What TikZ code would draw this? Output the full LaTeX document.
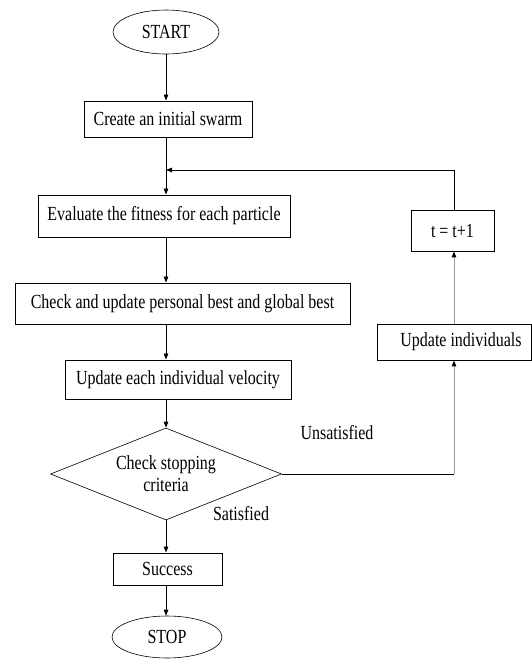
\documentclass[tikz,border=0pt]{standalone}
\usepackage{fontspec}
\setmainfont{Liberation Serif}[FakeStretch=0.8]
\usetikzlibrary{shapes.geometric,arrows.meta}
\begin{document}
\begin{tikzpicture}[x=1pt,y=-1pt,
  every node/.style={font=\fontsize{20}{22}\selectfont, inner sep=0pt},
  box/.style={draw, line width=0.9pt, rectangle},
  oval/.style={draw, line width=0.6pt, ellipse},
  dia/.style={draw, line width=0.6pt, diamond, aspect=2.5, align=center},
  arr/.style={line width=0.8pt, -{Triangle[length=6pt,width=4.5pt]}},
  garr/.style={line width=1pt, draw=black!40, -{Triangle[length=6pt,width=4.5pt,fill=black,color=black]}},
  ln/.style={line width=0.9pt}]
\useasboundingbox (0,0) rectangle (532,659);
\node[oval, minimum width=106pt, minimum height=44pt] (start) at (166,32) {START};
\node[box, minimum width=168pt, minimum height=36pt] (create) at (168,119) {Create an initial swarm};
\node[box, minimum width=252pt, minimum height=42pt] (eval) at (164,216) {Evaluate the fitness for each particle};
\node[box, minimum width=335pt, minimum height=41pt] (check) at (182.5,303.5) {Check and update personal best and global best};
\node[box, minimum width=226pt, minimum height=39pt] (vel) at (178,379.5) {Update each individual velocity};
\node[dia, minimum width=231pt, minimum height=92pt] (stopc) at (166,474) {Check stopping\\criteria};
\node[box, minimum width=109pt, minimum height=32pt] (succ) at (167.5,569) {Success};
\node[oval, minimum width=110pt, minimum height=42pt] (stop) at (167,637) {STOP};
\node[box, minimum width=83pt, minimum height=41pt] (tbox) at (452.5,230.5) {t = t+1};
\node[box, minimum width=154pt, minimum height=36pt] (upd) at (454,342) {\hspace{14pt}Update individuals};
\node (unsat) at (337,433) {Unsatisfied};
\node (sat) at (241,514) {Satisfied};
\coordinate (fb) at (166,170);
\coordinate (corner) at (454,474);
\draw[arr] (start.south) -- (start.south |- create.north);
\draw[arr] (start.south |- create.south) -- (start.south |- eval.north);
\draw[arr] (start.south |- eval.south) -- (start.south |- check.north);
\draw[arr] (start.south |- check.south) -- (start.south |- vel.north);
\draw[arr] (start.south |- vel.south) -- (stopc.north);
\draw[arr] (stopc.south) -- (stopc.south |- succ.north);
\draw[arr] (stopc.south |- succ.south) -- (stopc.south |- stop.north);
\draw[ln] (stopc.east) -- (corner);
\draw[garr] (corner) -- (upd.south);
\draw[garr] (upd.north) -- (tbox.south -| upd.north);
\draw[arr] (tbox.north -| upd.north) |- (fb);
\end{tikzpicture}
\end{document}
